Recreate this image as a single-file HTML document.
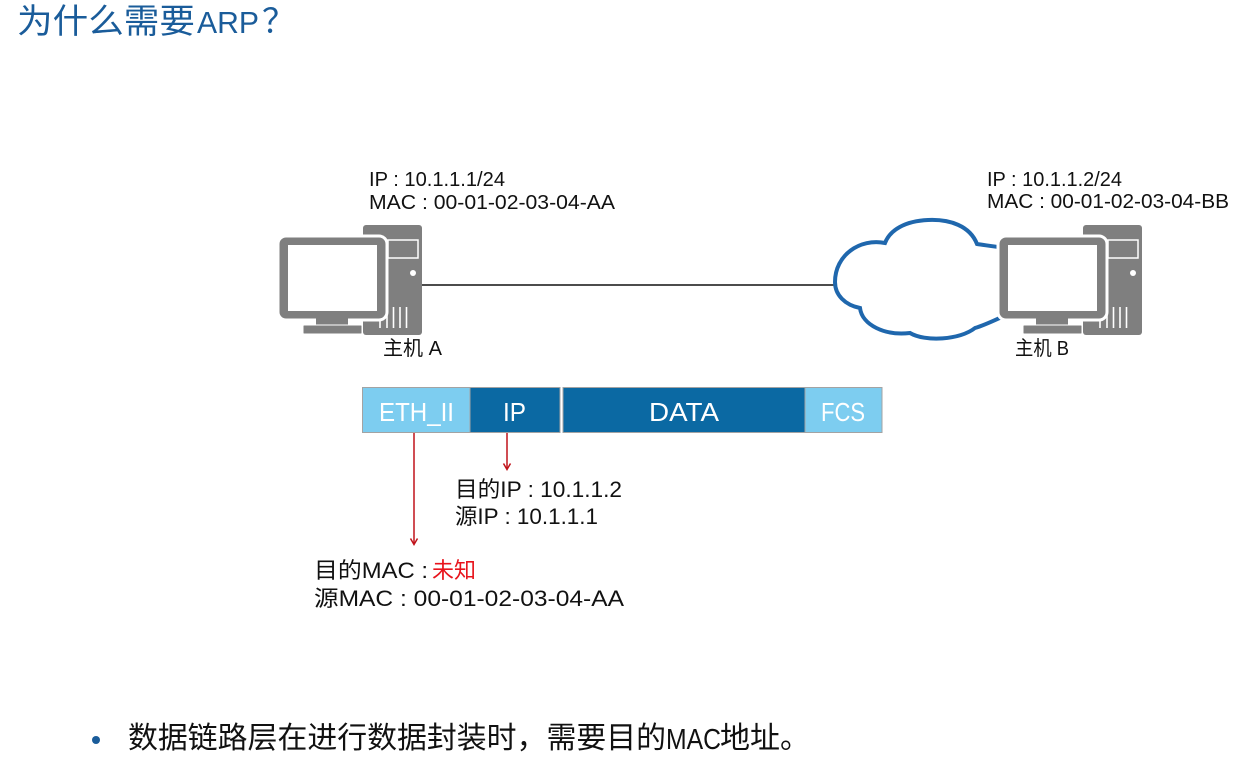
<!DOCTYPE html>
<html><head><meta charset="utf-8">
<style>
html,body{margin:0;padding:0;background:#fff;}
svg{display:block;}
text{font-family:"Liberation Sans","Noto Sans CJK SC",sans-serif;}
</style></head>
<body>
<svg width="1253" height="767" viewBox="0 0 1253 767" xmlns="http://www.w3.org/2000/svg">
<rect width="1253" height="767" fill="#fff"/>

<!-- Title -->
<text x="17" y="33" font-size="34" fill="#1a5c9a" textLength="178" lengthAdjust="spacingAndGlyphs">为什么需要</text>
<text x="197" y="33" font-size="31" fill="#1a5c9a" textLength="62" lengthAdjust="spacingAndGlyphs">ARP</text>
<text x="262" y="33" font-size="34" fill="#1a5c9a">？</text>

<!-- connection line -->
<line x1="422" y1="285" x2="838" y2="285" stroke="#111" stroke-width="1.6"/>

<!-- Cloud -->
<path d="M 1004 248 C 992 246, 983 245, 977 244 C 970 226, 950 219, 928 220 C 905 221, 890 230, 885 243 C 860 238, 835 255, 835 282 C 835 295, 845 305, 860 308 C 862 325, 885 336, 910 333 C 925 342, 960 340, 975 328 C 985 325, 995 320, 1004 316"
 fill="#fff" stroke="#1f67ad" stroke-width="4"/>

<!-- Computer A -->
<g id="pcA">
  <rect x="363" y="225" width="59" height="110" rx="3" fill="#7f7f7f"/>
  <rect x="388" y="240" width="30" height="18" fill="#7f7f7f" stroke="#fff" stroke-width="1.5"/>
  <circle cx="413" cy="273" r="3" fill="#fff"/>
  <g stroke="#fff" stroke-width="1.6">
    <line x1="380" y1="307" x2="380" y2="328"/>
    <line x1="387" y1="307" x2="387" y2="328"/>
    <line x1="393.5" y1="307" x2="393.5" y2="328"/>
    <line x1="400" y1="307" x2="400" y2="328"/>
    <line x1="406.5" y1="307" x2="406.5" y2="328"/>
  </g>
  <rect x="278" y="236" width="109" height="84" rx="8" fill="#7f7f7f" stroke="#fff" stroke-width="3"/>
  <rect x="288" y="245" width="89" height="66" fill="#fff"/>
  <rect x="316" y="318" width="32" height="8" fill="#7f7f7f"/>
  <rect x="303" y="325" width="59" height="9" rx="1" fill="#7f7f7f" stroke="#fff" stroke-width="1"/>
</g>

<!-- Computer B -->
<g transform="translate(720,0)">
  <rect x="363" y="225" width="59" height="110" rx="3" fill="#7f7f7f"/>
  <rect x="388" y="240" width="30" height="18" fill="#7f7f7f" stroke="#fff" stroke-width="1.5"/>
  <circle cx="413" cy="273" r="3" fill="#fff"/>
  <g stroke="#fff" stroke-width="1.6">
    <line x1="380" y1="307" x2="380" y2="328"/>
    <line x1="387" y1="307" x2="387" y2="328"/>
    <line x1="393.5" y1="307" x2="393.5" y2="328"/>
    <line x1="400" y1="307" x2="400" y2="328"/>
    <line x1="406.5" y1="307" x2="406.5" y2="328"/>
  </g>
  <rect x="278" y="236" width="109" height="84" rx="8" fill="#7f7f7f" stroke="#fff" stroke-width="3"/>
  <rect x="288" y="245" width="89" height="66" fill="#fff"/>
  <rect x="316" y="318" width="32" height="8" fill="#7f7f7f"/>
  <rect x="303" y="325" width="59" height="9" rx="1" fill="#7f7f7f" stroke="#fff" stroke-width="1"/>
</g>

<!-- Host labels -->
<text x="369" y="186" font-size="20" fill="#111" textLength="136" lengthAdjust="spacingAndGlyphs">IP : 10.1.1.1/24</text>
<text x="369" y="209" font-size="20" fill="#111" textLength="246" lengthAdjust="spacingAndGlyphs">MAC : 00-01-02-03-04-AA</text>
<text x="987" y="186" font-size="20" fill="#111" textLength="135" lengthAdjust="spacingAndGlyphs">IP : 10.1.1.2/24</text>
<text x="987" y="208" font-size="20" fill="#111" textLength="242" lengthAdjust="spacingAndGlyphs">MAC : 00-01-02-03-04-BB</text>
<text x="383" y="355" font-size="20" fill="#111" textLength="59" lengthAdjust="spacingAndGlyphs">主机 A</text>
<text x="1015" y="355" font-size="20" fill="#111" textLength="54" lengthAdjust="spacingAndGlyphs">主机 B</text>

<!-- Frame -->
<rect x="362.5" y="387.5" width="107.5" height="45" fill="#7dcdf0" stroke="#a3a3a3" stroke-width="1"/>
<rect x="470" y="387.5" width="90" height="45" fill="#0b69a3" stroke="#a3a3a3" stroke-width="1"/>
<rect x="563" y="387.5" width="242" height="45" fill="#0b69a3" stroke="#a3a3a3" stroke-width="1"/>
<rect x="805" y="387.5" width="77" height="45" fill="#7dcdf0" stroke="#a3a3a3" stroke-width="1"/>
<text x="379" y="421" font-size="26" fill="#fff" textLength="75" lengthAdjust="spacingAndGlyphs">ETH_II</text>
<text x="503" y="421" font-size="26" fill="#fff" textLength="23" lengthAdjust="spacingAndGlyphs">IP</text>
<text x="649" y="421" font-size="26" fill="#fff" textLength="70" lengthAdjust="spacingAndGlyphs">DATA</text>
<text x="821" y="421" font-size="26" fill="#fff" textLength="44" lengthAdjust="spacingAndGlyphs">FCS</text>

<!-- Red arrows -->
<g stroke="#c0131b" stroke-width="1.5" fill="none">
  <line x1="414" y1="433" x2="414" y2="544"/>
  <polyline points="410.5,538.5 414,544.5 417.5,538.5"/>
  <line x1="507" y1="433" x2="507" y2="469"/>
  <polyline points="503.5,463.5 507,469.5 510.5,463.5"/>
</g>

<!-- Field labels -->
<text x="455" y="497" font-size="22" fill="#111" textLength="167" lengthAdjust="spacingAndGlyphs">目的IP : 10.1.1.2</text>
<text x="455" y="524" font-size="22" fill="#111" textLength="143" lengthAdjust="spacingAndGlyphs">源IP : 10.1.1.1</text>
<text x="314" y="578" font-size="22" fill="#111" textLength="114" lengthAdjust="spacingAndGlyphs">目的MAC : </text>
<text x="432" y="578" font-size="22" fill="#e8141c" textLength="44" lengthAdjust="spacingAndGlyphs">未知</text>
<text x="314" y="606" font-size="22" fill="#111" textLength="310" lengthAdjust="spacingAndGlyphs">源MAC : 00-01-02-03-04-AA</text>

<!-- Bullet -->
<circle cx="96" cy="740" r="4" fill="#1a5c9a"/>
<text x="128" y="748" font-size="30" fill="#111" textLength="538" lengthAdjust="spacingAndGlyphs">数据链路层在进行数据封装时，需要目的</text>
<text x="666" y="749" font-size="29" fill="#111" textLength="55" lengthAdjust="spacingAndGlyphs">MAC</text>
<text x="720" y="748" font-size="30" fill="#111">地址。</text>
</svg>
</body></html>
